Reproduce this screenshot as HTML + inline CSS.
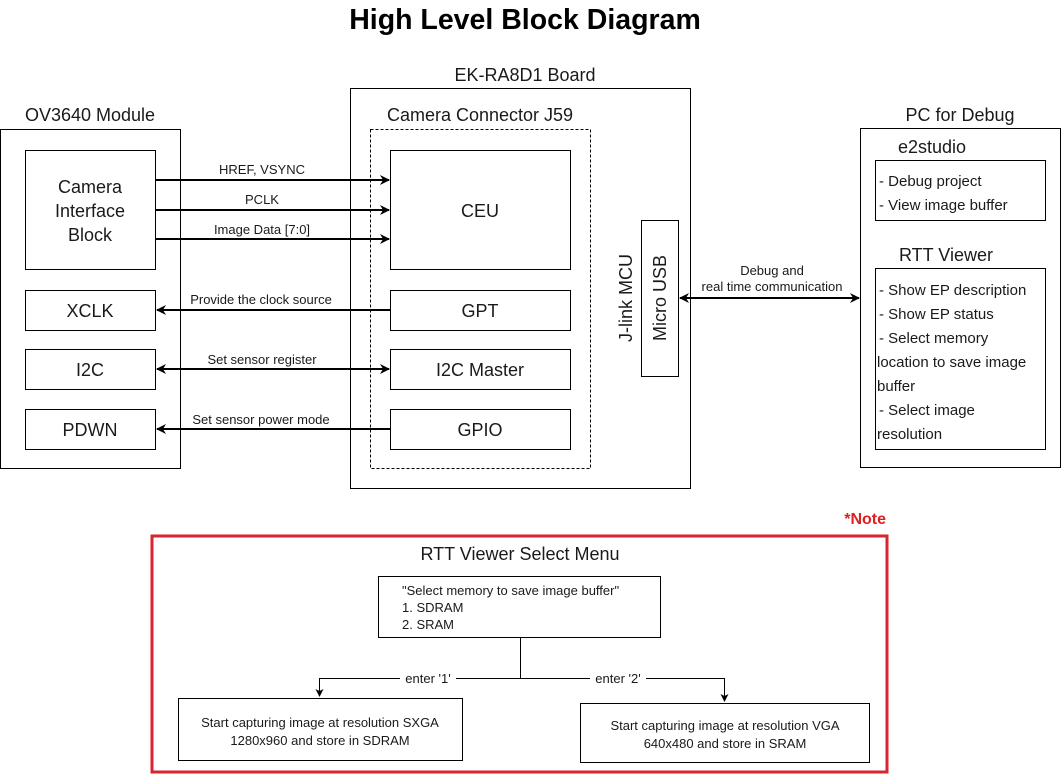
<!DOCTYPE html>
<html><head><meta charset="utf-8"><style>
html,body{margin:0;padding:0;background:#fff}
svg{display:block}
text{font-family:"Liberation Sans",Arial,sans-serif;fill:#1a1a1a}
</style></head><body>
<svg width="1061" height="781" viewBox="0 0 1061 781" xmlns="http://www.w3.org/2000/svg">
<defs>
<marker id="a" markerWidth="10" markerHeight="10" refX="9" refY="5" orient="auto-start-reverse" markerUnits="userSpaceOnUse">
<path d="M0,0 L10,5 L0,10 L3,5 Z" fill="#000"/>
</marker>
<marker id="s" markerWidth="8" markerHeight="8" refX="7" refY="4" orient="auto" markerUnits="userSpaceOnUse">
<path d="M0,0 L8,4 L0,8 L2,4 Z" fill="#000"/>
</marker>
</defs>
<text x="525" y="29" font-size="28.5" font-weight="bold" text-anchor="middle" style="fill:#000">High Level Block Diagram</text>

<g fill="none" stroke="#000" stroke-width="1">
<rect x="0.5" y="129.5" width="180" height="339"/>
<rect x="25.5" y="150.5" width="130" height="119"/>
<rect x="25.5" y="290.5" width="130" height="40"/>
<rect x="25.5" y="349.5" width="130" height="40"/>
<rect x="25.5" y="409.5" width="130" height="40"/>
<rect x="350.5" y="88.5" width="340" height="400"/>
<rect x="370.5" y="129.5" width="220" height="339" stroke-dasharray="3,2"/>
<rect x="390.5" y="150.5" width="180" height="119"/>
<rect x="390.5" y="290.5" width="180" height="40"/>
<rect x="390.5" y="349.5" width="180" height="40"/>
<rect x="390.5" y="409.5" width="180" height="40"/>
<rect x="641.5" y="220.5" width="37" height="156"/>
<rect x="860.5" y="128.5" width="200" height="339"/>
<rect x="875.5" y="160.5" width="170" height="60"/>
<rect x="875.5" y="268.5" width="170" height="181"/>
</g>

<g font-size="18" text-anchor="middle">
<text x="90" y="121">OV3640 Module</text>
<text x="90" y="193">Camera</text>
<text x="90" y="217">Interface</text>
<text x="90" y="241">Block</text>
<text x="90" y="317">XCLK</text>
<text x="90" y="376">I2C</text>
<text x="90" y="436">PDWN</text>
<text x="525" y="81">EK-RA8D1 Board</text>
<text x="480" y="121">Camera Connector J59</text>
<text x="480" y="217">CEU</text>
<text x="480" y="317">GPT</text>
<text x="480" y="376">I2C Master</text>
<text x="480" y="436">GPIO</text>
<text x="960" y="121">PC for Debug</text>
<text x="932" y="153">e2studio</text>
<text x="946" y="261">RTT Viewer</text>
<text transform="translate(666,298) rotate(-90)">Micro USB</text>
<text transform="translate(632,298) rotate(-90)">J-link MCU</text>
</g>

<g font-size="15">
<text x="879" y="186">- Debug project</text>
<text x="879" y="210">- View image buffer</text>
<text x="879" y="295">- Show EP description</text>
<text x="879" y="319">- Show EP status</text>
<text x="879" y="343">- Select memory</text>
<text x="877" y="367">location to save image</text>
<text x="877" y="391">buffer</text>
<text x="879" y="415">- Select image</text>
<text x="877" y="439">resolution</text>
</g>

<g stroke="#000" stroke-width="2" fill="none">
<line x1="156" y1="180" x2="389" y2="180" marker-end="url(#a)"/>
<line x1="156" y1="210" x2="389" y2="210" marker-end="url(#a)"/>
<line x1="156" y1="239" x2="389" y2="239" marker-end="url(#a)"/>
<line x1="390" y1="310" x2="157" y2="310" marker-end="url(#a)"/>
<line x1="157" y1="369" x2="389" y2="369" marker-start="url(#a)" marker-end="url(#a)"/>
<line x1="390" y1="429" x2="157" y2="429" marker-end="url(#a)"/>
<line x1="680" y1="298" x2="859" y2="298" marker-start="url(#a)" marker-end="url(#a)"/>
</g>
<g font-size="13" text-anchor="middle">
<text x="262" y="174">HREF, VSYNC</text>
<text x="262" y="204">PCLK</text>
<text x="262" y="234">Image Data [7:0]</text>
<text x="261" y="304">Provide the clock source</text>
<text x="262" y="364">Set sensor register</text>
<text x="261" y="424">Set sensor power mode</text>
<text x="772" y="275">Debug and</text>
<text x="772" y="291">real time communication</text>
</g>

<text x="886" y="524" font-size="16" font-weight="bold" text-anchor="end" style="fill:#e02020">*Note</text>
<rect x="152" y="536" width="735" height="236" fill="none" stroke="#d9262e" stroke-width="3"/>
<text x="520" y="560" font-size="18" text-anchor="middle">RTT Viewer Select Menu</text>

<g fill="none" stroke="#000" stroke-width="1">
<rect x="378.5" y="576.5" width="282" height="61"/>
<rect x="178.5" y="698.5" width="284" height="62"/>
<rect x="580.5" y="703.5" width="289" height="59"/>
<polyline points="520.5,637 520.5,678.5 319.5,678.5 319.5,696" marker-end="url(#s)"/>
<polyline points="520.5,678.5 724.5,678.5 724.5,701" marker-end="url(#s)"/>
</g>
<g font-size="13">
<text x="402" y="595">"Select memory to save image buffer"</text>
<text x="402" y="612">1. SDRAM</text>
<text x="402" y="629">2. SRAM</text>
<rect x="400" y="671" width="56" height="14" fill="#fff"/>
<text x="428" y="683" text-anchor="middle">enter '1'</text>
<rect x="590" y="671" width="56" height="14" fill="#fff"/>
<text x="618" y="683" text-anchor="middle">enter '2'</text>
<text x="320" y="727" text-anchor="middle">Start capturing image at resolution SXGA</text>
<text x="320" y="745" text-anchor="middle">1280x960 and store in SDRAM</text>
<text x="725" y="730" text-anchor="middle">Start capturing image at resolution VGA</text>
<text x="725" y="748" text-anchor="middle">640x480 and store in SRAM</text>
</g>
</svg>
</body></html>
